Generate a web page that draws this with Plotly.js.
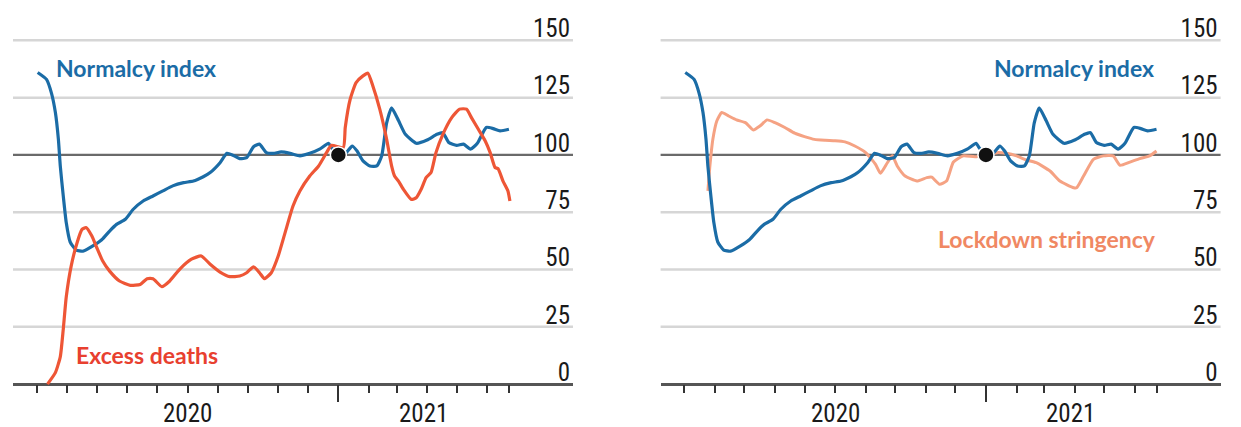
<!DOCTYPE html>
<html>
<head>
<meta charset="utf-8">
<script src="https://cdn.plot.ly/plotly-3.0.1.min.js"></script>
<style>
  html, body { margin: 0; padding: 0; background: #ffffff; }
  #chart { width: 1241px; height: 427px; }
</style>
</head>
<body>
<div id="chart"></div>
<script>
// ---------- DATA ----------
const normalcyDates = ['2020-03-02','2020-03-11','2020-03-16','2020-03-20','2020-03-23','2020-03-25','2020-03-28','2020-03-31',
  '2020-04-04','2020-04-10','2020-04-17','2020-04-27','2020-05-06','2020-05-14','2020-05-21','2020-05-30',
  '2020-06-07','2020-06-17','2020-06-27','2020-07-07','2020-07-17','2020-07-28','2020-08-07','2020-08-17','2020-08-24',
  '2020-09-03','2020-09-10','2020-09-16','2020-09-23','2020-09-30','2020-10-07','2020-10-13','2020-10-20','2020-10-27',
  '2020-11-04','2020-11-13','2020-11-23','2020-12-03','2020-12-13','2020-12-22','2020-12-25','2021-01-01',
  '2021-01-09','2021-01-15','2021-01-20','2021-01-26','2021-02-02','2021-02-09','2021-02-14','2021-02-19','2021-02-24',
  '2021-03-03','2021-03-10','2021-03-21','2021-04-01','2021-04-11','2021-04-17','2021-04-23','2021-05-01','2021-05-08',
  '2021-05-15','2021-05-22','2021-05-31','2021-06-07','2021-06-14','2021-06-23'];
const normalcyValues = [136,133,127,118.5,107,95,82,70.5,
  62,58.5,58,60.3,63,66.8,69.7,71.9,
  76.3,79.9,82.1,84.3,86.5,87.9,88.6,90.5,92.3,
  96.6,100.7,99.9,98.4,98.8,103.6,104.7,101,100.7,
  101.3,100.7,99.6,100.7,102.5,105.1,103.2,100,
  101,103.9,101.7,97.4,95.2,95.2,99.6,114,120.5,
  115,109,105.1,106.5,109,109.7,105.4,104.2,104.7,
  102.5,105.1,112,111.5,110.5,111.2];

const excessDates = ['2020-03-12','2020-03-20','2020-03-25','2020-03-28','2020-03-31','2020-04-05','2020-04-11','2020-04-16',
  '2020-04-20','2020-04-26','2020-05-01','2020-05-07','2020-05-14','2020-05-24','2020-06-04','2020-06-14','2020-06-21',
  '2020-06-27','2020-07-06','2020-07-14','2020-07-24','2020-08-05','2020-08-15','2020-08-24','2020-09-03','2020-09-13',
  '2020-09-23','2020-09-30','2020-10-07','2020-10-13','2020-10-18','2020-10-25','2020-11-01','2020-11-08','2020-11-16',
  '2020-11-23','2020-12-03','2020-12-12','2020-12-20','2020-12-25','2021-01-06','2021-01-08','2021-01-13','2021-01-19',
  '2021-01-26','2021-01-31','2021-02-05','2021-02-12','2021-02-19','2021-02-24','2021-02-27','2021-03-03','2021-03-08',
  '2021-03-16','2021-03-21','2021-03-26','2021-03-31','2021-04-05','2021-04-10','2021-04-17','2021-04-26','2021-05-04',
  '2021-05-11','2021-05-16','2021-05-23','2021-05-30','2021-06-04','2021-06-09','2021-06-12','2021-06-17','2021-06-22','2021-06-24'];
const excessValues = [0,5,12,24,38,51.5,61.7,67.5,
  68.3,64.6,59.5,53.7,49.3,45,43.1,43.5,46,
  46,42.5,45,50.1,54.5,55.9,52.3,48.9,46.9,
  47.2,48.6,51.2,48.6,46,48.6,55.9,66.1,77.7,
  84.3,90.8,95.2,101,104.2,103.2,112,124.3,131.6,
  134.5,135.7,130.1,120,106.8,95.2,90.8,88.6,85,
  80.6,81.3,85,90.1,92.3,101,109,116.3,120,
  120,116.3,111.2,106.1,101,94.5,94,88.6,84.3,79.9];

const stringencyDates = ['2020-03-25','2020-03-27','2020-03-30','2020-04-03','2020-04-08','2020-04-15','2020-04-23','2020-05-02',
  '2020-05-10','2020-05-17','2020-05-24','2020-06-01','2020-06-11','2020-06-21','2020-07-01','2020-07-11','2020-07-22',
  '2020-08-01','2020-08-11','2020-08-21','2020-09-01','2020-09-11','2020-09-16','2020-09-23','2020-09-28','2020-10-03',
  '2020-10-11','2020-10-23','2020-11-02','2020-11-07','2020-11-15','2020-11-22','2020-11-29','2020-12-09','2020-12-21',
  '2021-01-12','2021-01-22','2021-02-01','2021-02-11','2021-02-21','2021-03-07','2021-03-17','2021-03-31','2021-04-03',
  '2021-04-10','2021-04-20','2021-04-30','2021-05-10','2021-05-17','2021-05-27','2021-06-06','2021-06-16','2021-06-23'];
const stringencyValues = [84.3,95.2,106.8,114.8,118.5,117,115.3,114.1,
  110.9,112.7,115.3,114.1,112,109.5,108,106.8,106.4,
  106.2,105.7,103.9,101,95.9,92,96.6,99.6,95.2,
  90.8,88.6,90.1,90.3,87.2,88.6,96.9,99.6,99.2,
  101,100.7,99.6,97.8,96.6,93,88.6,85.7,85.7,
  90.8,98.1,99.6,99.6,95.5,96.9,98.4,99.6,101.7];

const baseDate = ['2021-01-01'];
const baseValue = [100];

const yTicks = [0, 25, 50, 75, 100, 125, 150];
const baselineValue = 100;
const monthTicks = ['2020-03-01','2020-04-01','2020-05-01','2020-06-01','2020-07-01','2020-08-01','2020-09-01',
  '2020-10-01','2020-11-01','2020-12-01','2021-02-01','2021-03-01','2021-04-01','2021-05-01','2021-06-01','2021-06-23'];
const yearTick = ['2021-01-01'];
const yearLabels = ['2020', '2021'];
const yearLabelPos = ['2020-08-01', '2021-03-28'];

// ---------- STYLE ----------
const BLUE = '#1b6ca6';
const RED = '#ee5636';
const RED_TXT = '#e8402f';
const SALMON = '#f5a283';
const SALMON_TXT = '#f08863';
const NARROW = "'Liberation Sans Narrow', 'Roboto Condensed', 'DejaVu Sans Condensed', 'Arial Narrow', sans-serif";
const LABEL = "Lato, 'Open Sans', sans-serif";

const W = 1241;
const xRange = ['2020-02-06', '2021-08-27'];
const yRange = [-10, 165];
const plotTop = 6, plotBottom = 427 - 20;
const axisPos = (0 - yRange[0]) / (yRange[1] - yRange[0]);

function xAxis(domain, yName) {
  return {
    domain: domain, anchor: 'free', overlaying: undefined, position: axisPos, type: 'date', range: xRange,
    showgrid: false, zeroline: false, showline: false,
    tickmode: 'array', tickvals: yearTick, ticks: 'outside', ticklen: 17, tickwidth: 2, tickcolor: '#333',
    showticklabels: false,
    minor: { tickmode: 'array', tickvals: monthTicks, ticks: 'outside', ticklen: 8, tickwidth: 2, tickcolor: '#333', showgrid: false },
    fixedrange: true
  };
}
function yAxis(anchor) {
  return {
    anchor: anchor, range: yRange, side: 'right',
    tickmode: 'array', tickvals: yTicks, ticktext: yTicks.map(String),
    ticks: '', ticklabelposition: 'inside', ticklabelshift: -12,
    tickfont: { family: NARROW, size: 25, color: '#1a1a1a' },
    showgrid: false,
    zeroline: true, zerolinecolor: '#555555', zerolinewidth: 3,
    showline: false, fixedrange: true
  };
}

const lineCommon = { mode: 'lines', hoverinfo: 'skip', showlegend: false };

const traces = [
  Object.assign({ x: normalcyDates, y: normalcyValues, xaxis: 'x', yaxis: 'y', line: { color: BLUE, width: 3.2, shape: 'spline', smoothing: 0.5 } }, lineCommon),
  Object.assign({ x: excessDates, y: excessValues, xaxis: 'x', yaxis: 'y', line: { color: RED, width: 3.2, shape: 'spline', smoothing: 0.5 } }, lineCommon),
  { x: baseDate, y: baseValue, xaxis: 'x', yaxis: 'y', mode: 'markers', hoverinfo: 'skip', showlegend: false,
    marker: { color: '#111111', size: 16, line: { color: '#ffffff', width: 1.5 } } },
  Object.assign({ x: stringencyDates, y: stringencyValues, xaxis: 'x2', yaxis: 'y2', line: { color: SALMON, width: 3, shape: 'spline', smoothing: 0.5 } }, lineCommon),
  Object.assign({ x: normalcyDates, y: normalcyValues, xaxis: 'x2', yaxis: 'y2', line: { color: BLUE, width: 3.2, shape: 'spline', smoothing: 0.5 } }, lineCommon),
  { x: baseDate, y: baseValue, xaxis: 'x2', yaxis: 'y2', mode: 'markers', hoverinfo: 'skip', showlegend: false,
    marker: { color: '#111111', size: 16, line: { color: '#ffffff', width: 1.5 } } }
];

function py(px) { return (plotBottom - px) / (plotBottom - plotTop); }

const annotations = [];
[['x', 'y'], ['x2', 'y2']].forEach(function (ax) {
  yearLabels.forEach(function (t, i) {
    annotations.push({ text: t, xref: ax[0], x: yearLabelPos[i], yref: 'paper', y: py(414), xanchor: 'center', yanchor: 'middle',
      showarrow: false, font: { family: NARROW, size: 25, color: '#1a1a1a' } });
  });
});
annotations.push(
  { text: '<b>Normalcy index</b>', xref: 'paper', x: 54 / W, yref: 'paper', y: py(68), xanchor: 'left', yanchor: 'middle',
    showarrow: false, font: { family: LABEL, size: 23, color: BLUE } },
  { text: '<b>Excess deaths</b>', xref: 'paper', x: 74 / W, yref: 'paper', y: py(355), xanchor: 'left', yanchor: 'middle',
    showarrow: false, font: { family: LABEL, size: 23, color: RED_TXT } },
  { text: '<b>Normalcy index</b>', xref: 'paper', x: 992 / W, yref: 'paper', y: py(68), xanchor: 'left', yanchor: 'middle',
    showarrow: false, font: { family: LABEL, size: 23, color: BLUE } },
  { text: '<b>Lockdown stringency</b>', xref: 'paper', x: 936 / W, yref: 'paper', y: py(239), xanchor: 'left', yanchor: 'middle',
    showarrow: false, font: { family: LABEL, size: 23, color: SALMON_TXT } }
);

const shapes = [];
[['x domain', 'y'], ['x2 domain', 'y2']].forEach(function (ax) {
  yTicks.forEach(function (v) {
    if (v === 0) return;
    const isBase = v === baselineValue;
    shapes.push({ type: 'line', xref: ax[0], yref: ax[1], x0: 0, x1: 1, y0: v, y1: v, layer: 'below',
      line: { color: isBase ? '#6a6a6a' : '#d6d6d6', width: isBase ? 2.2 : 2.5 } });
  });
});

const xa1 = xAxis([13 / W, 573 / W]);
const xa2 = xAxis([660.6 / W, 1220.6 / W]);
delete xa1.overlaying; delete xa2.overlaying;

const layout = {
  width: 1241, height: 427,
  margin: { l: 0, r: 0, t: plotTop, b: 427 - plotBottom },
  paper_bgcolor: '#ffffff', plot_bgcolor: '#ffffff',
  showlegend: false,
  xaxis: xa1,
  yaxis: yAxis('x'),
  xaxis2: xa2,
  yaxis2: yAxis('x2'),
  annotations: annotations,
  shapes: shapes
};

Plotly.newPlot('chart', traces, layout, { displayModeBar: false, staticPlot: true });
</script>
</body>
</html>
